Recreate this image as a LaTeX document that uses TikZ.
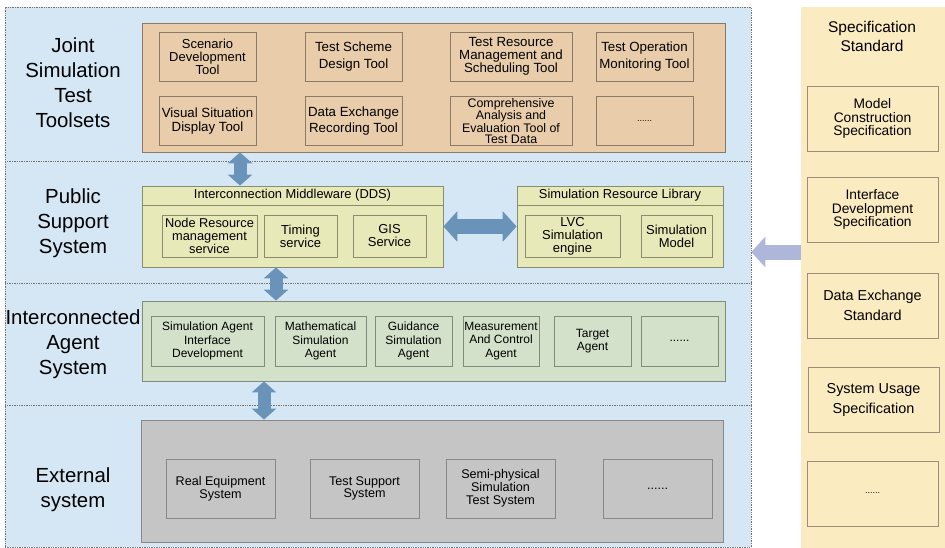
\documentclass[tikz,border=0pt]{standalone}
\usepackage{fontspec}
\setmainfont{Liberation Sans}
\usetikzlibrary{arrows.meta}

\definecolor{layerbg}{HTML}{D5E7F4}
\definecolor{tanfill}{HTML}{E9CDAA}
\definecolor{tanline}{HTML}{8C7A68}
\definecolor{mwfill}{HTML}{E7E9B9}
\definecolor{mwline}{HTML}{8A8C70}
\definecolor{agentfill}{HTML}{D3E1CA}
\definecolor{agentline}{HTML}{7E8C7A}
\definecolor{extfill}{HTML}{C5C5C5}
\definecolor{extline}{HTML}{888888}
\definecolor{specfill}{HTML}{FBEBC1}
\definecolor{specline}{HTML}{9A8E78}
\definecolor{linkblue}{HTML}{6A93B9}
\definecolor{linkpurple}{HTML}{AEB6D9}

\begin{document}
\begin{tikzpicture}[x=1pt,y=-1pt,
    every node/.style={inner sep=0pt,align=center},
    layertext/.style={font=\fontsize{20.4}{25}\selectfont},
    dotline/.style={draw=black!55,line width=0.7pt,dash pattern=on 1.4pt off 1pt},
    toolbox/.style={draw=tanline,fill=tanfill,line width=0.8pt,minimum height=49pt,font=\fontsize{13.3}{16.5}\selectfont},
    mwbox/.style={draw=mwline,fill=mwfill,line width=0.8pt,minimum height=42pt,font=\fontsize{13}{13}\selectfont},
    agentbox/.style={draw=agentline,fill=agentfill,line width=0.8pt,minimum height=50pt,font=\fontsize{12}{13.3}\selectfont},
    extbox/.style={draw=extline,fill=extfill,line width=0.8pt,minimum height=59pt,minimum width=109pt,font=\fontsize{12.6}{12.8}\selectfont},
    specbox/.style={draw=specline,line width=0.8pt,minimum width=131pt,minimum height=65pt,font=\fontsize{14.4}{20}\selectfont},
    tight/.style={font=\fontsize{13}{13}\selectfont},
    linkarrow/.style={draw=linkblue,line width=13pt,{Triangle[length=11pt,width=24pt]}-{Triangle[length=11pt,width=24pt]}},
    widearrow/.style={draw=linkblue,line width=15pt,{Triangle[length=14pt,width=30pt]}-{Triangle[length=14pt,width=30pt]}},
    specarrow/.style={draw=linkpurple,line width=15pt,-{Triangle[length=14pt,width=30pt]}}]
  \useasboundingbox (0,0) rectangle (945,548);

  % layers
  \node[dotline,fill=layerbg,minimum width=746pt,minimum height=540pt] (layers) at (378,277) {};
  \foreach \y in {161,283,405}
    \draw[dotline] (layers.west |- 0,\y) -- (layers.east |- 0,\y);
  \node[layertext] (l1) at (73,83) {Joint\\Simulation\\Test\\Toolsets};
  \node[layertext] (l2) at (73,223) {Public\\Support\\System};
  \node[layertext] (l3) at (73,344) {Interconnected\\Agent\\System};
  \node[layertext] (l4) at (73,490) {External\\system};

  % toolsets
  \node[draw=tanline,fill=tanfill,line width=0.8pt,minimum width=583pt,minimum height=129pt] (tools) at (433.5,87.5) {};
  \node[toolbox,tight,minimum width=97pt] (t1) at (207.5,56.5) {Scenario\\Development\\Tool};
  \node[toolbox,minimum width=97pt] (t2) at (353.5,56.5) {Test Scheme\\Design Tool};
  \node[toolbox,font=\fontsize{13.3}{13.3}\selectfont,minimum width=122pt] (t3) at (511,56.5) {Test Resource\\Management and\\Scheduling Tool};
  \node[toolbox,minimum width=97pt] (t4) at (644.5,56.5) {Test Operation\\Monitoring Tool};
  \node[toolbox,font=\fontsize{13.3}{14}\selectfont,minimum width=97pt] (t5) at (207.5,121) {Visual Situation\\Display Tool};
  \node[toolbox,minimum width=97pt] (t6) at (353.5,121) {Data Exchange\\Recording Tool};
  \node[toolbox,font=\fontsize{12.4}{11.4}\selectfont,minimum width=122pt] (t7) at (511,121) {Comprehensive\\Analysis and\\Evaluation Tool of\\Test Data};
  \node[toolbox,font=\fontsize{9}{9}\selectfont,minimum width=97pt] (t8) at (644.5,121) {......};

  % public support
  \node[draw=mwline,fill=mwfill,line width=0.8pt,minimum width=301pt,minimum height=81pt] (mw) at (292.5,226.5) {};
  \draw[draw=mwline,line width=0.8pt] (mw.west |- 0,205) -- (mw.east |- 0,205);
  \node[font=\fontsize{12.9}{13}\selectfont] (mwtitle) at (292.5,195.5) {Interconnection Middleware (DDS)};
  \node[mwbox,font=\fontsize{12.8}{13}\selectfont,minimum width=95pt] (m1) at (209.5,236) {Node Resource\\management\\service};
  \node[mwbox,minimum width=73pt] (m2) at (300.5,236) {Timing\\service};
  \node[mwbox,minimum width=73pt] (m3) at (389.5,236) {GIS\\Service};
  \node[draw=mwline,fill=mwfill,line width=0.8pt,minimum width=206pt,minimum height=81pt] (srl) at (620,226.5) {};
  \draw[draw=mwline,line width=0.8pt] (srl.west |- 0,205) -- (srl.east |- 0,205);
  \node[font=\fontsize{12.9}{13}\selectfont] (srltitle) at (620,195.5) {Simulation Resource Library};
  \node[mwbox,minimum width=95pt] (s1) at (572.5,236) {LVC\\Simulation\\engine};
  \node[mwbox,minimum width=71pt] (s2) at (676.5,236) {Simulation\\Model};

  % agents
  \node[draw=agentline,fill=agentfill,line width=0.8pt,minimum width=583pt,minimum height=80pt] (agents) at (433.5,341) {};
  \foreach[count=\i] \x/\w/\t in {207.5/113/{Simulation Agent\\Interface\\Development},
      320.5/91/{Mathematical\\Simulation\\Agent}, 413.5/77/{Guidance\\Simulation\\Agent},
      501/76/{Measurement\\And Control\\Agent}, 592.5/77/{Target\\Agent}, 679.5/77/{......}} {
    \node[agentbox,minimum width=\w pt] (a\i) at (\x,341) {\t};
  }

  % external
  \node[draw=extline,fill=extfill,line width=0.8pt,minimum width=582pt,minimum height=122pt] (ext) at (432,481) {};
  \foreach[count=\i] \x/\t in {220.5/{Real Equipment\\System}, 364.5/{Test Support\\System},
      500.5/{Semi-physical\\Simulation\\Test System}, 657.5/{......}} {
    \node[extbox] (e\i) at (\x,488.5) {\t};
  }

  % specification
  \node[fill=specfill,minimum width=144pt,minimum height=541pt] (spec) at (873,277.5) {};
  \node[font=\fontsize{15.5}{19}\selectfont] (spectitle) at (872,36) {Specification\\Standard};
  \node[specbox,font=\fontsize{13.8}{13.8}\selectfont] (p1) at (872.5,118.5) {Model\\Construction\\Specification};
  \node[specbox,font=\fontsize{13.8}{13.8}\selectfont] (p2) at (872.5,209.5) {Interface\\Development\\Specification};
  \node[specbox] (p3) at (872.5,305.5) {Data Exchange\\Standard};
  \node[specbox] (p4) at (873.5,399.5) {System Usage\\Specification};
  \node[specbox,font=\fontsize{9}{9}\selectfont] (p5) at (872.5,493.5) {......};

  % links
  \draw[linkarrow] (240,0 |- tools.south) -- (240,0 |- mw.north);
  \draw[linkarrow] (276,0 |- mw.south) -- (276,0 |- agents.north);
  \draw[linkarrow] (264,0 |- agents.south) -- (264,0 |- ext.north);
  \draw[widearrow] (mw.east) -- (srl.west);
  \draw[specarrow] (spec.west |- 0,252) -- (layers.east |- 0,252);
\end{tikzpicture}
\end{document}
